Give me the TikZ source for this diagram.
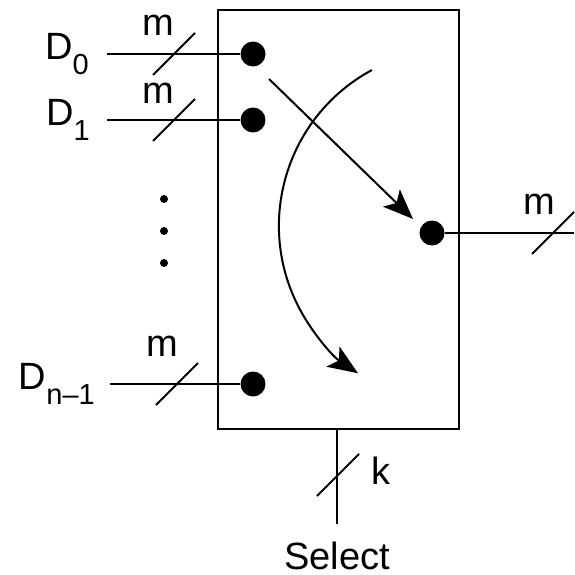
\documentclass[tikz,border=0pt]{standalone}
\usepackage{fontspec}
\setmainfont{Liberation Sans}
\usetikzlibrary{positioning,calc,arrows.meta}

\newcommand{\subidx}[1]{\raisebox{-15pt}{\fontsize{29}{30}\selectfont #1}}

\tikzset{
  wire/.style={line width=2pt},
  dot/.style={circle, fill=black, inner sep=0pt, minimum size=25pt},
  lbl/.style={inner sep=0pt, font=\fontsize{38}{44}\selectfont},
  flow/.style={line width=2pt, -{Stealth[length=30pt,width=24pt,inset=7pt]}},
}

\begin{document}
\begin{tikzpicture}[x=1pt,y=-1pt]
\useasboundingbox (0,0) rectangle (574,575);

% mux box
\node[draw, wire, minimum width=241pt, minimum height=419pt, inner sep=0pt] (mux) at (338.5,219.5) {};

% input and output points
\node[dot] (in0) at (253,54) {};
\node[dot] (in1) at (253,120) {};
\node[dot] (inn) at (253,384) {};
\node[dot] (out) at (432,233) {};

\coordinate (a0) at (107,54);
\coordinate (a1) at (107,120);
\coordinate (an) at (110,384);
\coordinate (oend) at (574,233);
\coordinate (sel) at (337,524);

\draw[wire] (a0) -- (in0);
\draw[wire] (a1) -- (in1);
\draw[wire] (an) -- (inn);
\draw[wire] (out) -- (oend);
\draw[wire] (mux.south -| sel) -- (sel);

\node[lbl, left=18pt of a0] (d0) {D\subidx{0}};
\node[lbl, left=17pt of a1] (d1) {D\subidx{1}};
\node[lbl, left=15pt of an] (dn) {D\subidx{n--1}};
\node[lbl, below=18pt of sel] (select) {Select};

% bus width marks
\foreach \px/\py in {174/54, 174/120, 177/384, 553/233, 338/475}
  \draw[wire] (\px-21,\py+21) -- (\px+21,\py-21);
\node[lbl] (m0) at (158,25) {m};
\node[lbl] (m1) at (158,93) {m};
\node[lbl] (mn) at (162,346) {m};
\node[lbl] (mo) at (539,204) {m};
\node[lbl] (k) at (381,471) {k};

% vertical dots
\foreach \y in {199,231,263}
  \fill (164,\y) circle (4pt);

% selection arrows
\draw[flow] ($(in0)+(16,25)$) -- ($(out)+(-19,-14)$);
\coordinate (cstart) at (372,70);
\draw[flow] (cstart) arc[start angle=241.7, end angle=123.6, radius=177];
\end{tikzpicture}
\end{document}
